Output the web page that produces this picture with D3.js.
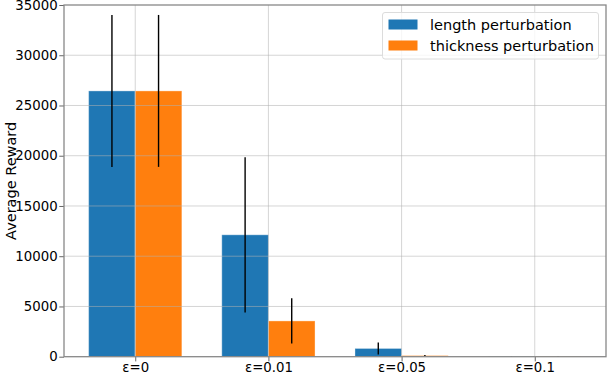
<!DOCTYPE html>
<html>
<head>
<meta charset="utf-8">
<script src="https://cdn.jsdelivr.net/npm/d3@7"></script>
<style>
  body { margin: 0; background: #fff; }
  text { font-family: "DejaVu Sans", sans-serif; }
</style>
</head>
<body>
<div id="root"></div>
<script>
// chart values
const categories = ["ε=0", "ε=0.01", "ε=0.05", "ε=0.1"];
const seriesNames = ["length perturbation", "thickness perturbation"];
const lengthMean = [26450, 12130, 820, 40];
const lengthErr = [7560, 7720, 590, 20];
const thicknessMean = [26450, 3560, 110, 40];
const thicknessErr = [7560, 2250, 60, 20];
const yTicks = [0, 5000, 10000, 15000, 20000, 25000, 30000, 35000];

const colors = ["#1f77b4", "#ff7f0e"];

const w = 607, h = 375;
const margin = { top: 5, right: 1, bottom: 18.3, left: 64 };
const width = w - margin.left - margin.right;
const height = h - margin.top - margin.bottom;

const svg = d3.select("#root").append("svg")
  .attr("width", w).attr("height", h);
const g = svg.append("g")
  .attr("transform", "translate(" + margin.left + "," + margin.top + ")");

// matplotlib-like: bars at i -/+ 0.175 with width 0.35, 5% margins
const barW = 0.35;
const x = d3.scaleLinear().domain([-0.535, 3.535]).range([0, width]);
const y = d3.scaleLinear().domain([0, 35000]).range([height, 0]);

const rows = [];
categories.forEach(function(c, i) {
  rows.push({ i: i, s: 0, v: lengthMean[i], e: lengthErr[i] });
  rows.push({ i: i, s: 1, v: thicknessMean[i], e: thicknessErr[i] });
});

// bars
g.selectAll(".bar").data(rows).enter().append("rect")
  .attr("class", "bar")
  .attr("x", function(d) { return x(d.i + (d.s === 0 ? -barW : 0)); })
  .attr("width", x(barW) - x(0))
  .attr("y", function(d) { return y(d.v); })
  .attr("height", function(d) { return y(0) - y(d.v); })
  .attr("fill", function(d) { return colors[d.s]; })
  .attr("stroke", "rgba(255,255,255,0.35)")
  .attr("stroke-width", 1);

// grid on top of bars
const grid = g.append("g");
grid.selectAll(".gy").data(yTicks.slice(1, -1)).enter().append("line")
  .attr("x1", 0).attr("x2", width)
  .attr("y1", function(d) { return y(d); }).attr("y2", function(d) { return y(d); })
  .attr("stroke", "#b0b0b0").attr("stroke-opacity", 0.6).attr("stroke-width", 0.9);
grid.selectAll(".gx").data(categories).enter().append("line")
  .attr("x1", function(d, i) { return x(i); }).attr("x2", function(d, i) { return x(i); })
  .attr("y1", 0).attr("y2", height)
  .attr("stroke", "#b0b0b0").attr("stroke-opacity", 0.6).attr("stroke-width", 0.9);

// error bars
g.selectAll(".err").data(rows).enter().append("line")
  .attr("x1", function(d) { return x(d.i + (d.s === 0 ? -barW / 2 : barW / 2)); })
  .attr("x2", function(d) { return x(d.i + (d.s === 0 ? -barW / 2 : barW / 2)); })
  .attr("y1", function(d) { return y(d.v + d.e); })
  .attr("y2", function(d) { return y(Math.max(0, d.v - d.e)); })
  .attr("stroke", "#000").attr("stroke-width", 1.4);

// axes
const yAxis = g.append("g")
  .call(d3.axisLeft(y).tickValues(yTicks).tickSize(4.7).tickPadding(1.7).tickFormat(d3.format("d")));
const xAxis = g.append("g")
  .attr("transform", "translate(0," + height + ")")
  .call(d3.axisBottom(x).tickValues(d3.range(categories.length)).tickSize(4.7).tickPadding(1)
    .tickFormat(function(d) { return categories[d]; }));
[yAxis, xAxis].forEach(function(a) {
  a.select(".domain").remove();
  a.selectAll(".tick line").attr("stroke", "#555").attr("stroke-width", 0.9);
  a.selectAll(".tick text").attr("fill", "#000").style("font-size", "13.3px")
    .style("font-family", "DejaVu Sans, sans-serif");
});

// frame
g.append("rect")
  .attr("x", 0).attr("y", 0).attr("width", width).attr("height", height)
  .attr("fill", "none").attr("stroke", "#888").attr("stroke-width", 1.3);

// y label
svg.append("text")
  .attr("transform", "translate(11," + (margin.top + height / 2) + ") rotate(-90)")
  .attr("text-anchor", "middle")
  .attr("dominant-baseline", "central")
  .style("font-size", "14.5px")
  .text("Average Reward");

// legend
const leg = svg.append("g").attr("transform", "translate(382.5,12.5)");
leg.append("rect")
  .attr("width", 216).attr("height", 46.5).attr("rx", 2.5)
  .attr("fill", "#fff").attr("fill-opacity", 0.8)
  .attr("stroke", "#dcdcdc").attr("stroke-width", 1);
seriesNames.forEach(function(n, i) {
  leg.append("rect")
    .attr("x", 6).attr("y", 7 + i * 21).attr("width", 29).attr("height", 10)
    .attr("fill", colors[i]);
  leg.append("text")
    .attr("x", 47.5).attr("y", 12 + i * 21)
    .attr("dominant-baseline", "central")
    .style("font-size", "14.5px")
    .text(n);
});
</script>
</body>
</html>
